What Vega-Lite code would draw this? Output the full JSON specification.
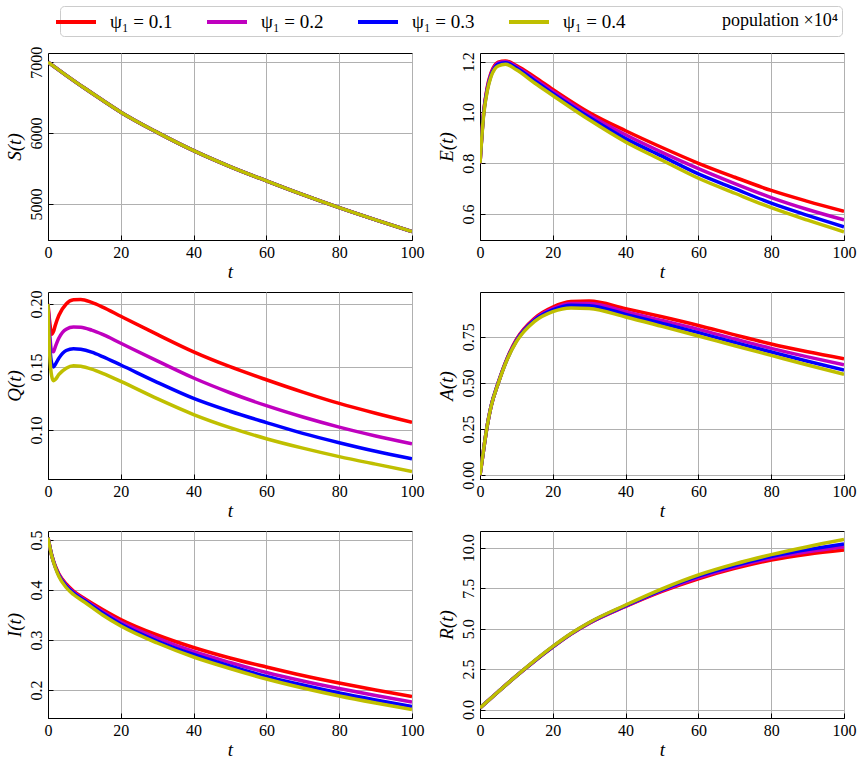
{
  "$schema": "https://vega.github.io/schema/vega-lite/v6.json",
  "background": "white",
  "padding": {"left": 4, "top": 5, "right": 4, "bottom": 2},
  "data": {
    "values": [
      {"v": "S", "t": 0, "p1": 7000, "p2": 7000, "p3": 7000, "p4": 7000},
      {"v": "S", "t": 5, "p1": 6815, "p2": 6815, "p3": 6815, "p4": 6815},
      {"v": "S", "t": 10, "p1": 6635, "p2": 6635, "p3": 6635, "p4": 6635},
      {"v": "S", "t": 15, "p1": 6462, "p2": 6462, "p3": 6462, "p4": 6462},
      {"v": "S", "t": 20, "p1": 6295, "p2": 6295, "p3": 6295, "p4": 6295},
      {"v": "S", "t": 30, "p1": 6010, "p2": 6010, "p3": 6010, "p4": 6010},
      {"v": "S", "t": 40, "p1": 5752, "p2": 5752, "p3": 5752, "p4": 5752},
      {"v": "S", "t": 50, "p1": 5527, "p2": 5527, "p3": 5527, "p4": 5527},
      {"v": "S", "t": 60, "p1": 5325, "p2": 5325, "p3": 5325, "p4": 5325},
      {"v": "S", "t": 70, "p1": 5130, "p2": 5130, "p3": 5130, "p4": 5130},
      {"v": "S", "t": 80, "p1": 4946, "p2": 4946, "p3": 4946, "p4": 4946},
      {"v": "S", "t": 90, "p1": 4774, "p2": 4774, "p3": 4774, "p4": 4774},
      {"v": "S", "t": 100, "p1": 4610, "p2": 4610, "p3": 4610, "p4": 4610},

      {"v": "E", "t": 0, "p1": 0.8, "p2": 0.8, "p3": 0.8, "p4": 0.8},
      {"v": "E", "t": 1, "p1": 1.0, "p2": 1.0, "p3": 0.995, "p4": 0.99},
      {"v": "E", "t": 2, "p1": 1.1, "p2": 1.095, "p3": 1.09, "p4": 1.085},
      {"v": "E", "t": 3, "p1": 1.155, "p2": 1.15, "p3": 1.145, "p4": 1.14},
      {"v": "E", "t": 4, "p1": 1.185, "p2": 1.18, "p3": 1.175, "p4": 1.17},
      {"v": "E", "t": 5, "p1": 1.198, "p2": 1.195, "p3": 1.19, "p4": 1.183},
      {"v": "E", "t": 7, "p1": 1.203, "p2": 1.2, "p3": 1.196, "p4": 1.19},
      {"v": "E", "t": 10, "p1": 1.185, "p2": 1.18, "p3": 1.175, "p4": 1.168},
      {"v": "E", "t": 15, "p1": 1.14, "p2": 1.132, "p3": 1.125, "p4": 1.116},
      {"v": "E", "t": 20, "p1": 1.091, "p2": 1.083, "p3": 1.075, "p4": 1.067},
      {"v": "E", "t": 30, "p1": 1.0, "p2": 0.99, "p3": 0.981, "p4": 0.971},
      {"v": "E", "t": 40, "p1": 0.928, "p2": 0.912, "p3": 0.897, "p4": 0.884},
      {"v": "E", "t": 50, "p1": 0.862, "p2": 0.843, "p3": 0.828, "p4": 0.812},
      {"v": "E", "t": 60, "p1": 0.8, "p2": 0.779, "p3": 0.758, "p4": 0.741},
      {"v": "E", "t": 70, "p1": 0.745, "p2": 0.72, "p3": 0.7, "p4": 0.682},
      {"v": "E", "t": 80, "p1": 0.693, "p2": 0.665, "p3": 0.643, "p4": 0.625},
      {"v": "E", "t": 90, "p1": 0.65, "p2": 0.618, "p3": 0.595, "p4": 0.576},
      {"v": "E", "t": 100, "p1": 0.611, "p2": 0.577, "p3": 0.55, "p4": 0.53},

      {"v": "Q", "t": 0, "p1": 0.2, "p2": 0.2, "p3": 0.2, "p4": 0.2},
      {"v": "Q", "t": 0.5, "p1": 0.185, "p2": 0.175, "p3": 0.167, "p4": 0.158},
      {"v": "Q", "t": 1, "p1": 0.176, "p2": 0.163, "p3": 0.153, "p4": 0.143},
      {"v": "Q", "t": 1.5, "p1": 0.178, "p2": 0.162, "p3": 0.15, "p4": 0.139},
      {"v": "Q", "t": 2, "p1": 0.183, "p2": 0.166, "p3": 0.152, "p4": 0.14},
      {"v": "Q", "t": 3, "p1": 0.191, "p2": 0.173, "p3": 0.157, "p4": 0.144},
      {"v": "Q", "t": 5, "p1": 0.2, "p2": 0.18, "p3": 0.163, "p4": 0.149},
      {"v": "Q", "t": 7, "p1": 0.2033, "p2": 0.1817, "p3": 0.1645, "p4": 0.151},
      {"v": "Q", "t": 9, "p1": 0.2035, "p2": 0.1815, "p3": 0.164, "p4": 0.1505},
      {"v": "Q", "t": 12, "p1": 0.2012, "p2": 0.1792, "p3": 0.1617, "p4": 0.1482},
      {"v": "Q", "t": 15, "p1": 0.1975, "p2": 0.1758, "p3": 0.1582, "p4": 0.1449},
      {"v": "Q", "t": 20, "p1": 0.1902, "p2": 0.1688, "p3": 0.1515, "p4": 0.1385},
      {"v": "Q", "t": 30, "p1": 0.1758, "p2": 0.1548, "p3": 0.1378, "p4": 0.1248},
      {"v": "Q", "t": 40, "p1": 0.162, "p2": 0.1412, "p3": 0.125, "p4": 0.1122},
      {"v": "Q", "t": 50, "p1": 0.1502, "p2": 0.1295, "p3": 0.1148, "p4": 0.1018},
      {"v": "Q", "t": 60, "p1": 0.1398, "p2": 0.1192, "p3": 0.1058, "p4": 0.093},
      {"v": "Q", "t": 70, "p1": 0.13, "p2": 0.1102, "p3": 0.0972, "p4": 0.0855},
      {"v": "Q", "t": 80, "p1": 0.121, "p2": 0.1022, "p3": 0.0898, "p4": 0.0788},
      {"v": "Q", "t": 90, "p1": 0.1132, "p2": 0.0952, "p3": 0.083, "p4": 0.0728},
      {"v": "Q", "t": 100, "p1": 0.106, "p2": 0.089, "p3": 0.077, "p4": 0.067},

      {"v": "A", "t": 0, "p1": 0.0, "p2": 0.0, "p3": 0.0, "p4": 0.0},
      {"v": "A", "t": 1, "p1": 0.14, "p2": 0.14, "p3": 0.14, "p4": 0.14},
      {"v": "A", "t": 2, "p1": 0.27, "p2": 0.27, "p3": 0.27, "p4": 0.27},
      {"v": "A", "t": 3, "p1": 0.37, "p2": 0.37, "p3": 0.37, "p4": 0.369},
      {"v": "A", "t": 5, "p1": 0.5, "p2": 0.5, "p3": 0.499, "p4": 0.497},
      {"v": "A", "t": 7.5, "p1": 0.635, "p2": 0.633, "p3": 0.631, "p4": 0.628},
      {"v": "A", "t": 10, "p1": 0.735, "p2": 0.732, "p3": 0.728, "p4": 0.723},
      {"v": "A", "t": 15, "p1": 0.85, "p2": 0.845, "p3": 0.84, "p4": 0.833},
      {"v": "A", "t": 20, "p1": 0.91, "p2": 0.902, "p3": 0.895, "p4": 0.886},
      {"v": "A", "t": 25, "p1": 0.94, "p2": 0.93, "p3": 0.92, "p4": 0.906},
      {"v": "A", "t": 30, "p1": 0.943, "p2": 0.93, "p3": 0.918, "p4": 0.903},
      {"v": "A", "t": 40, "p1": 0.902, "p2": 0.885, "p3": 0.871, "p4": 0.857},
      {"v": "A", "t": 50, "p1": 0.858, "p2": 0.838, "p3": 0.822, "p4": 0.806},
      {"v": "A", "t": 60, "p1": 0.811, "p2": 0.79, "p3": 0.772, "p4": 0.754},
      {"v": "A", "t": 70, "p1": 0.76, "p2": 0.738, "p3": 0.719, "p4": 0.701},
      {"v": "A", "t": 80, "p1": 0.711, "p2": 0.687, "p3": 0.667, "p4": 0.649},
      {"v": "A", "t": 90, "p1": 0.669, "p2": 0.641, "p3": 0.617, "p4": 0.597},
      {"v": "A", "t": 100, "p1": 0.631, "p2": 0.598, "p3": 0.569, "p4": 0.546},

      {"v": "I", "t": 0, "p1": 0.505, "p2": 0.505, "p3": 0.505, "p4": 0.505},
      {"v": "I", "t": 1, "p1": 0.47, "p2": 0.47, "p3": 0.47, "p4": 0.469},
      {"v": "I", "t": 2, "p1": 0.448, "p2": 0.447, "p3": 0.446, "p4": 0.445},
      {"v": "I", "t": 3, "p1": 0.432, "p2": 0.431, "p3": 0.429, "p4": 0.427},
      {"v": "I", "t": 5, "p1": 0.412, "p2": 0.41, "p3": 0.408, "p4": 0.405},
      {"v": "I", "t": 7, "p1": 0.398, "p2": 0.396, "p3": 0.394, "p4": 0.391},
      {"v": "I", "t": 10, "p1": 0.383, "p2": 0.381, "p3": 0.379, "p4": 0.376},
      {"v": "I", "t": 15, "p1": 0.361, "p2": 0.357, "p3": 0.354, "p4": 0.35},
      {"v": "I", "t": 20, "p1": 0.341, "p2": 0.336, "p3": 0.332, "p4": 0.328},
      {"v": "I", "t": 30, "p1": 0.31, "p2": 0.304, "p3": 0.298, "p4": 0.294},
      {"v": "I", "t": 40, "p1": 0.285, "p2": 0.277, "p3": 0.271, "p4": 0.266},
      {"v": "I", "t": 50, "p1": 0.264, "p2": 0.255, "p3": 0.248, "p4": 0.243},
      {"v": "I", "t": 60, "p1": 0.246, "p2": 0.235, "p3": 0.227, "p4": 0.222},
      {"v": "I", "t": 70, "p1": 0.229, "p2": 0.218, "p3": 0.21, "p4": 0.204},
      {"v": "I", "t": 80, "p1": 0.214, "p2": 0.203, "p3": 0.194, "p4": 0.188},
      {"v": "I", "t": 90, "p1": 0.2, "p2": 0.189, "p3": 0.18, "p4": 0.174},
      {"v": "I", "t": 100, "p1": 0.187, "p2": 0.176, "p3": 0.167, "p4": 0.161},

      {"v": "R", "t": 0, "p1": 0.1, "p2": 0.1, "p3": 0.1, "p4": 0.1},
      {"v": "R", "t": 5, "p1": 1.1, "p2": 1.1, "p3": 1.1, "p4": 1.1},
      {"v": "R", "t": 10, "p1": 2.08, "p2": 2.08, "p3": 2.08, "p4": 2.08},
      {"v": "R", "t": 15, "p1": 3.0, "p2": 3.0, "p3": 3.01, "p4": 3.02},
      {"v": "R", "t": 20, "p1": 3.86, "p2": 3.87, "p3": 3.88, "p4": 3.9},
      {"v": "R", "t": 25, "p1": 4.66, "p2": 4.67, "p3": 4.68, "p4": 4.7},
      {"v": "R", "t": 30, "p1": 5.33, "p2": 5.34, "p3": 5.36, "p4": 5.38},
      {"v": "R", "t": 40, "p1": 6.37, "p2": 6.39, "p3": 6.42, "p4": 6.46},
      {"v": "R", "t": 50, "p1": 7.3, "p2": 7.35, "p3": 7.4, "p4": 7.46},
      {"v": "R", "t": 60, "p1": 8.08, "p2": 8.16, "p3": 8.24, "p4": 8.32},
      {"v": "R", "t": 70, "p1": 8.72, "p2": 8.81, "p3": 8.9, "p4": 9.0},
      {"v": "R", "t": 80, "p1": 9.24, "p2": 9.35, "p3": 9.45, "p4": 9.57},
      {"v": "R", "t": 90, "p1": 9.6, "p2": 9.74, "p3": 9.88, "p4": 10.06},
      {"v": "R", "t": 100, "p1": 9.86, "p2": 10.06, "p3": 10.23, "p4": 10.5}
    ]
  },
  "transform": [
    {"fold": ["p1", "p2", "p3", "p4"], "as": ["psi", "value"]}
  ],
  "columns": 2,
  "bounds": "flush",
  "spacing": {"row": 52, "column": 68},
  "concat": [
    {
      "width": 364, "height": 187,
      "transform": [{"filter": "datum.v === 'S'"}],
      "mark": {"type": "line", "strokeWidth": 3.5, "interpolate": "monotone", "clip": true},
      "encoding": {
        "x": {"field": "t", "type": "quantitative", "scale": {"domain": [0, 100]}, "axis": {"values": [0, 20, 40, 60, 80, 100]}, "title": "t"},
        "y": {"field": "value", "type": "quantitative", "scale": {"domain": [4490, 7130], "nice": false, "zero": false}, "axis": {"values": [5000, 6000, 7000], "format": "d"}, "title": "S(t)"},
        "color": {
          "field": "psi", "type": "nominal",
          "legend": {
            "orient": "none",
            "legendX": 12,
            "legendY": -47,
            "direction": "horizontal",
            "title": "population ×10⁴",
            "titleOrient": "right",
            "titleAnchor": "middle",
            "titleBaseline": "middle",
            "labelExpr": "{'p1': 'ψ₁ = 0.1', 'p2': 'ψ₁ = 0.2', 'p3': 'ψ₁ = 0.3', 'p4': 'ψ₁ = 0.4'}[datum.value]"
          }
        }
      }
    },
    {
      "width": 364, "height": 187,
      "transform": [{"filter": "datum.v === 'E'"}],
      "mark": {"type": "line", "strokeWidth": 3.5, "interpolate": "monotone", "clip": true},
      "encoding": {
        "x": {"field": "t", "type": "quantitative", "scale": {"domain": [0, 100]}, "axis": {"values": [0, 20, 40, 60, 80, 100]}, "title": "t"},
        "y": {"field": "value", "type": "quantitative", "scale": {"domain": [0.498, 1.234], "nice": false, "zero": false}, "axis": {"values": [0.6, 0.8, 1.0, 1.2], "format": ".1f"}, "title": "E(t)"},
        "color": {"field": "psi", "type": "nominal"}
      }
    },
    {
      "width": 364, "height": 187,
      "transform": [{"filter": "datum.v === 'Q'"}],
      "mark": {"type": "line", "strokeWidth": 3.5, "interpolate": "monotone", "clip": true},
      "encoding": {
        "x": {"field": "t", "type": "quantitative", "scale": {"domain": [0, 100]}, "axis": {"values": [0, 20, 40, 60, 80, 100]}, "title": "t"},
        "y": {"field": "value", "type": "quantitative", "scale": {"domain": [0.061, 0.2095], "nice": false, "zero": false}, "axis": {"values": [0.1, 0.15, 0.2], "format": ".2f"}, "title": "Q(t)"},
        "color": {"field": "psi", "type": "nominal"}
      }
    },
    {
      "width": 364, "height": 187,
      "transform": [{"filter": "datum.v === 'A'"}],
      "mark": {"type": "line", "strokeWidth": 3.5, "interpolate": "monotone", "clip": true},
      "encoding": {
        "x": {"field": "t", "type": "quantitative", "scale": {"domain": [0, 100]}, "axis": {"values": [0, 20, 40, 60, 80, 100]}, "title": "t"},
        "y": {"field": "value", "type": "quantitative", "scale": {"domain": [-0.02, 0.992], "nice": false, "zero": false}, "axis": {"values": [0, 0.25, 0.5, 0.75], "format": ".2f"}, "title": "A(t)"},
        "color": {"field": "psi", "type": "nominal"}
      }
    },
    {
      "width": 364, "height": 187,
      "transform": [{"filter": "datum.v === 'I'"}],
      "mark": {"type": "line", "strokeWidth": 3.5, "interpolate": "monotone", "clip": true},
      "encoding": {
        "x": {"field": "t", "type": "quantitative", "scale": {"domain": [0, 100]}, "axis": {"values": [0, 20, 40, 60, 80, 100]}, "title": "t"},
        "y": {"field": "value", "type": "quantitative", "scale": {"domain": [0.144, 0.518], "nice": false, "zero": false}, "axis": {"values": [0.2, 0.3, 0.4, 0.5], "format": ".1f"}, "title": "I(t)"},
        "color": {"field": "psi", "type": "nominal"}
      }
    },
    {
      "width": 364, "height": 187,
      "transform": [{"filter": "datum.v === 'R'"}],
      "mark": {"type": "line", "strokeWidth": 3.5, "interpolate": "monotone", "clip": true},
      "encoding": {
        "x": {"field": "t", "type": "quantitative", "scale": {"domain": [0, 100]}, "axis": {"values": [0, 20, 40, 60, 80, 100]}, "title": "t"},
        "y": {"field": "value", "type": "quantitative", "scale": {"domain": [-0.52, 11.03], "nice": false, "zero": false}, "axis": {"values": [0, 2.5, 5, 7.5, 10], "format": ".1f"}, "title": "R(t)"},
        "color": {"field": "psi", "type": "nominal"}
      }
    }
  ],
  "resolve": {"scale": {"color": "shared"}},
  "config": {
    "font": "Liberation Serif",
    "view": {"stroke": "black", "strokeWidth": 1},
    "range": {"category": ["#ff0000", "#bf00bf", "#0000ff", "#bfbf00"]},
    "axis": {
      "grid": true,
      "gridColor": "#b0b0b0",
      "gridWidth": 1,
      "domainColor": "black",
      "tickColor": "black",
      "tickSize": -5,
      "labelPadding": 9,
      "labelFont": "Liberation Serif",
      "labelFontSize": 16,
      "labelColor": "black",
      "titleFont": "Liberation Serif",
      "titleFontSize": 19,
      "titleFontStyle": "italic",
      "titleFontWeight": "normal",
      "titleColor": "black",
      "labelFlush": false,
      "labelOverlap": false
    },
    "axisX": {"titlePadding": 2},
    "axisY": {"labelAngle": -90, "labelAlign": "center", "labelBaseline": "bottom", "titlePadding": 4},
    "legend": {
      "titleFont": "Liberation Serif",
      "titleFontSize": 18,
      "titleFontWeight": "normal",
      "titleColor": "black",
      "titlePadding": 97,
      "labelFont": "Liberation Serif",
      "labelFontSize": 19,
      "labelColor": "black",
      "symbolType": "M-2,0H2",
      "symbolStrokeWidth": 4,
      "symbolSize": 400,
      "labelOffset": 22,
      "columnPadding": 26,
      "strokeColor": "#cccccc",
      "fillColor": "white",
      "cornerRadius": 4,
      "padding": 4
    }
  }
}
